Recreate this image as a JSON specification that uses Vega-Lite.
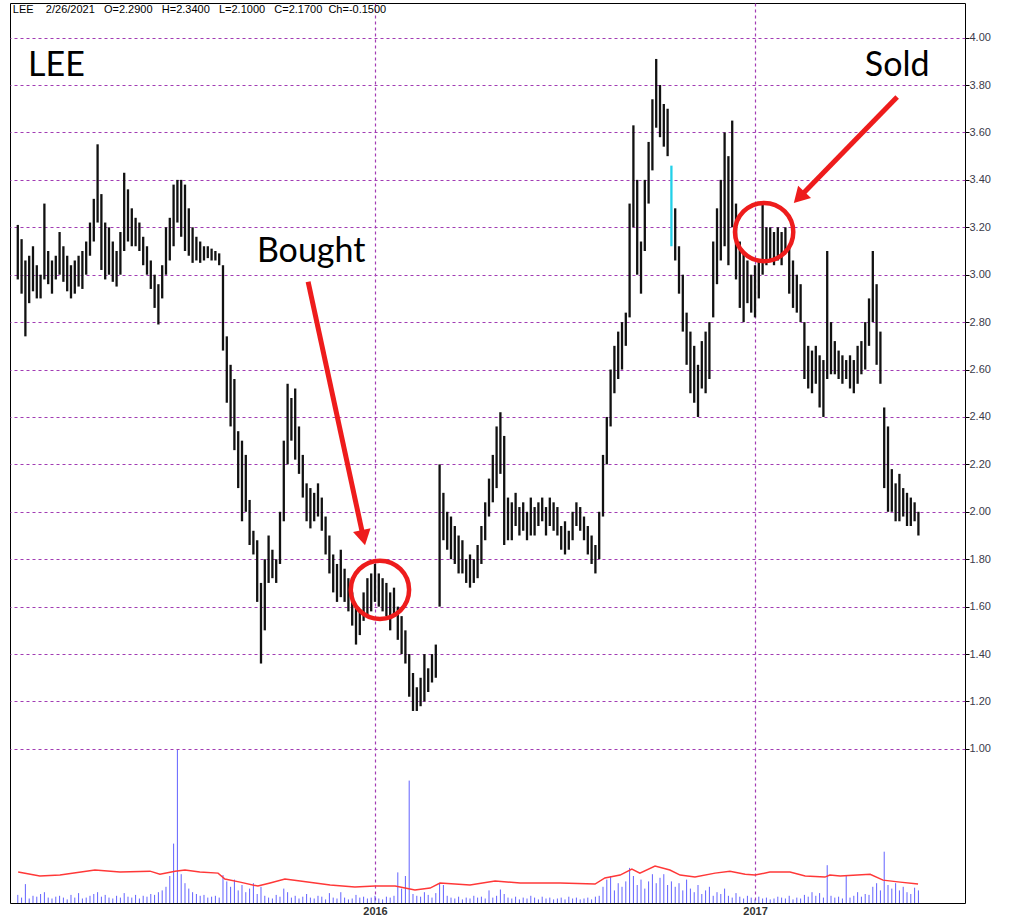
{
 "$schema": "https://vega.github.io/schema/vega-lite/v6.json",
 "width": 955,
 "height": 900,
 "autosize": {"type": "none"},
 "padding": {"left": 10, "top": 3, "right": 58, "bottom": 18},
 "background": "white",
 "config": {"view": {"stroke": "black", "strokeWidth": 1}, "font": "Liberation Sans"},
 "datasets": {
  "px": [
   {"t":2015.06,"hi":3.21,"lo":2.98,"v":45},{"t":2015.07,"hi":3.15,"lo":2.92,"v":30},{"t":2015.08,"hi":3.06,"lo":2.74,"v":105},{"t":2015.09,"hi":3.08,"lo":2.88,"v":25},{"t":2015.10,"hi":3.12,"lo":2.93,"v":40},
   {"t":2015.11,"hi":3.04,"lo":2.90,"v":35},{"t":2015.12,"hi":3.00,"lo":2.90,"v":50},{"t":2015.13,"hi":3.30,"lo":2.98,"v":60},{"t":2015.14,"hi":3.10,"lo":2.96,"v":30},{"t":2015.15,"hi":3.06,"lo":2.92,"v":25},
   {"t":2015.16,"hi":3.08,"lo":2.98,"v":35},{"t":2015.17,"hi":3.18,"lo":3.00,"v":40},{"t":2015.18,"hi":3.12,"lo":2.97,"v":30},{"t":2015.19,"hi":3.08,"lo":2.93,"v":20},{"t":2015.20,"hi":3.04,"lo":2.90,"v":45},
   {"t":2015.21,"hi":3.06,"lo":2.92,"v":30},{"t":2015.22,"hi":3.08,"lo":2.95,"v":55},{"t":2015.23,"hi":3.10,"lo":2.94,"v":25},{"t":2015.24,"hi":3.14,"lo":3.00,"v":30},{"t":2015.25,"hi":3.22,"lo":3.08,"v":40},
   {"t":2015.26,"hi":3.32,"lo":3.14,"v":50},{"t":2015.27,"hi":3.55,"lo":3.22,"v":60},{"t":2015.28,"hi":3.34,"lo":3.02,"v":35},{"t":2015.29,"hi":3.22,"lo":2.98,"v":45},{"t":2015.30,"hi":3.20,"lo":3.00,"v":30},
   {"t":2015.31,"hi":3.14,"lo":2.97,"v":25},{"t":2015.32,"hi":3.10,"lo":2.95,"v":40},{"t":2015.33,"hi":3.18,"lo":3.00,"v":30},{"t":2015.34,"hi":3.43,"lo":3.10,"v":55},{"t":2015.35,"hi":3.36,"lo":3.14,"v":35},
   {"t":2015.36,"hi":3.28,"lo":3.12,"v":30},{"t":2015.37,"hi":3.24,"lo":3.12,"v":45},{"t":2015.38,"hi":3.22,"lo":3.10,"v":25},{"t":2015.39,"hi":3.16,"lo":3.04,"v":40},{"t":2015.40,"hi":3.12,"lo":3.00,"v":35},
   {"t":2015.41,"hi":3.06,"lo":2.94,"v":50},{"t":2015.42,"hi":3.00,"lo":2.86,"v":45},{"t":2015.43,"hi":2.96,"lo":2.79,"v":60},{"t":2015.44,"hi":3.04,"lo":2.90,"v":70},{"t":2015.45,"hi":3.20,"lo":3.00,"v":90},
   {"t":2015.46,"hi":3.24,"lo":3.06,"v":150},{"t":2015.47,"hi":3.38,"lo":3.12,"v":330},{"t":2015.48,"hi":3.40,"lo":3.22,"v":850},{"t":2015.49,"hi":3.40,"lo":3.16,"v":160},{"t":2015.50,"hi":3.38,"lo":3.10,"v":110},
   {"t":2015.51,"hi":3.28,"lo":3.08,"v":80},{"t":2015.52,"hi":3.20,"lo":3.05,"v":60},{"t":2015.53,"hi":3.16,"lo":3.06,"v":50},{"t":2015.54,"hi":3.14,"lo":3.05,"v":40},{"t":2015.55,"hi":3.12,"lo":3.06,"v":45},
   {"t":2015.56,"hi":3.12,"lo":3.07,"v":30},{"t":2015.57,"hi":3.11,"lo":3.06,"v":35},{"t":2015.58,"hi":3.10,"lo":3.06,"v":40},{"t":2015.59,"hi":3.09,"lo":3.04,"v":30},{"t":2015.60,"hi":3.04,"lo":2.68,"v":155},
   {"t":2015.61,"hi":2.74,"lo":2.46,"v":120},{"t":2015.62,"hi":2.62,"lo":2.36,"v":90},{"t":2015.63,"hi":2.56,"lo":2.26,"v":130},{"t":2015.64,"hi":2.34,"lo":2.10,"v":70},{"t":2015.65,"hi":2.30,"lo":1.96,"v":100},
   {"t":2015.66,"hi":2.24,"lo":2.00,"v":60},{"t":2015.67,"hi":2.05,"lo":1.86,"v":80},{"t":2015.68,"hi":1.92,"lo":1.82,"v":110},{"t":2015.69,"hi":1.88,"lo":1.62,"v":50},{"t":2015.70,"hi":1.70,"lo":1.36,"v":90},
   {"t":2015.71,"hi":1.80,"lo":1.50,"v":40},{"t":2015.72,"hi":1.90,"lo":1.70,"v":30},{"t":2015.73,"hi":1.84,"lo":1.72,"v":25},{"t":2015.74,"hi":1.80,"lo":1.70,"v":45},{"t":2015.75,"hi":2.00,"lo":1.78,"v":35},
   {"t":2015.76,"hi":2.30,"lo":1.96,"v":80},{"t":2015.77,"hi":2.54,"lo":2.20,"v":60},{"t":2015.78,"hi":2.48,"lo":2.30,"v":30},{"t":2015.79,"hi":2.52,"lo":2.22,"v":40},{"t":2015.80,"hi":2.36,"lo":2.16,"v":25},
   {"t":2015.81,"hi":2.24,"lo":2.06,"v":35},{"t":2015.82,"hi":2.12,"lo":1.96,"v":50},{"t":2015.83,"hi":2.10,"lo":1.93,"v":30},{"t":2015.84,"hi":2.08,"lo":1.96,"v":25},{"t":2015.85,"hi":2.12,"lo":1.98,"v":40},
   {"t":2015.86,"hi":2.06,"lo":1.92,"v":35},{"t":2015.87,"hi":1.98,"lo":1.82,"v":20},{"t":2015.88,"hi":1.90,"lo":1.74,"v":55},{"t":2015.89,"hi":1.82,"lo":1.66,"v":30},{"t":2015.90,"hi":1.78,"lo":1.62,"v":25},
   {"t":2015.91,"hi":1.84,"lo":1.64,"v":60},{"t":2015.92,"hi":1.76,"lo":1.62,"v":30},{"t":2015.93,"hi":1.72,"lo":1.58,"v":20},{"t":2015.94,"hi":1.66,"lo":1.52,"v":25},{"t":2015.95,"hi":1.60,"lo":1.44,"v":45},
   {"t":2015.96,"hi":1.58,"lo":1.48,"v":30},{"t":2015.97,"hi":1.66,"lo":1.54,"v":35},{"t":2015.98,"hi":1.72,"lo":1.56,"v":25},{"t":2015.99,"hi":1.74,"lo":1.58,"v":30},{"t":2016.00,"hi":1.78,"lo":1.62,"v":40},
   {"t":2016.01,"hi":1.74,"lo":1.60,"v":25},{"t":2016.02,"hi":1.72,"lo":1.58,"v":20},{"t":2016.03,"hi":1.70,"lo":1.56,"v":35},{"t":2016.04,"hi":1.66,"lo":1.50,"v":30},{"t":2016.05,"hi":1.68,"lo":1.56,"v":40},
   {"t":2016.06,"hi":1.60,"lo":1.46,"v":170},{"t":2016.07,"hi":1.56,"lo":1.40,"v":80},{"t":2016.08,"hi":1.50,"lo":1.36,"v":150},{"t":2016.09,"hi":1.40,"lo":1.22,"v":680},{"t":2016.10,"hi":1.32,"lo":1.16,"v":50},
   {"t":2016.11,"hi":1.26,"lo":1.16,"v":40},{"t":2016.12,"hi":1.30,"lo":1.18,"v":35},{"t":2016.13,"hi":1.40,"lo":1.20,"v":60},{"t":2016.14,"hi":1.34,"lo":1.24,"v":45},{"t":2016.15,"hi":1.40,"lo":1.28,"v":30},
   {"t":2016.16,"hi":1.44,"lo":1.30,"v":55},{"t":2016.17,"hi":2.20,"lo":1.60,"v":110},{"t":2016.18,"hi":2.08,"lo":1.88,"v":100},{"t":2016.19,"hi":2.00,"lo":1.84,"v":40},{"t":2016.20,"hi":1.98,"lo":1.80,"v":30},
   {"t":2016.21,"hi":1.94,"lo":1.78,"v":25},{"t":2016.22,"hi":1.90,"lo":1.74,"v":35},{"t":2016.23,"hi":1.88,"lo":1.74,"v":20},{"t":2016.24,"hi":1.80,"lo":1.70,"v":30},{"t":2016.25,"hi":1.82,"lo":1.68,"v":25},
   {"t":2016.26,"hi":1.80,"lo":1.70,"v":40},{"t":2016.27,"hi":1.86,"lo":1.72,"v":30},{"t":2016.28,"hi":1.94,"lo":1.78,"v":35},{"t":2016.29,"hi":2.04,"lo":1.88,"v":25},{"t":2016.30,"hi":2.14,"lo":1.98,"v":70},
   {"t":2016.31,"hi":2.24,"lo":2.04,"v":30},{"t":2016.32,"hi":2.36,"lo":2.10,"v":40},{"t":2016.33,"hi":2.42,"lo":2.16,"v":75},{"t":2016.34,"hi":2.32,"lo":1.86,"v":50},{"t":2016.35,"hi":2.06,"lo":1.88,"v":30},
   {"t":2016.36,"hi":2.04,"lo":1.88,"v":25},{"t":2016.37,"hi":2.08,"lo":1.94,"v":35},{"t":2016.38,"hi":2.02,"lo":1.90,"v":20},{"t":2016.39,"hi":2.04,"lo":1.92,"v":30},{"t":2016.40,"hi":2.00,"lo":1.88,"v":25},
   {"t":2016.41,"hi":2.06,"lo":1.90,"v":40},{"t":2016.42,"hi":2.02,"lo":1.90,"v":30},{"t":2016.43,"hi":2.04,"lo":1.94,"v":20},{"t":2016.44,"hi":2.06,"lo":1.96,"v":35},{"t":2016.45,"hi":2.02,"lo":1.90,"v":25},
   {"t":2016.46,"hi":2.06,"lo":1.94,"v":30},{"t":2016.47,"hi":2.04,"lo":1.92,"v":20},{"t":2016.48,"hi":2.02,"lo":1.90,"v":25},{"t":2016.49,"hi":1.94,"lo":1.84,"v":30},{"t":2016.50,"hi":1.96,"lo":1.82,"v":20},
   {"t":2016.51,"hi":1.92,"lo":1.84,"v":35},{"t":2016.52,"hi":2.00,"lo":1.88,"v":25},{"t":2016.53,"hi":2.04,"lo":1.94,"v":30},{"t":2016.54,"hi":2.02,"lo":1.92,"v":20},{"t":2016.55,"hi":1.98,"lo":1.88,"v":25},
   {"t":2016.56,"hi":1.94,"lo":1.82,"v":30},{"t":2016.57,"hi":1.90,"lo":1.78,"v":20},{"t":2016.58,"hi":1.86,"lo":1.74,"v":35},{"t":2016.59,"hi":2.00,"lo":1.80,"v":40},{"t":2016.60,"hi":2.24,"lo":1.98,"v":90},
   {"t":2016.61,"hi":2.40,"lo":2.20,"v":130},{"t":2016.62,"hi":2.60,"lo":2.36,"v":150},{"t":2016.63,"hi":2.70,"lo":2.50,"v":70},{"t":2016.64,"hi":2.76,"lo":2.56,"v":110},{"t":2016.65,"hi":2.80,"lo":2.60,"v":90},
   {"t":2016.66,"hi":2.84,"lo":2.70,"v":120},{"t":2016.67,"hi":3.30,"lo":2.82,"v":195},{"t":2016.68,"hi":3.63,"lo":3.20,"v":150},{"t":2016.69,"hi":3.40,"lo":3.00,"v":100},{"t":2016.70,"hi":3.14,"lo":2.92,"v":130},
   {"t":2016.71,"hi":3.40,"lo":3.10,"v":80},{"t":2016.72,"hi":3.56,"lo":3.30,"v":120},{"t":2016.73,"hi":3.74,"lo":3.44,"v":160},{"t":2016.74,"hi":3.91,"lo":3.62,"v":110},{"t":2016.75,"hi":3.80,"lo":3.58,"v":140},
   {"t":2016.76,"hi":3.72,"lo":3.54,"v":160},{"t":2016.77,"hi":3.70,"lo":3.50,"v":100},{"t":2016.78,"hi":3.46,"lo":3.12,"v":120},{"t":2016.79,"hi":3.28,"lo":3.06,"v":90},{"t":2016.80,"hi":3.12,"lo":2.92,"v":110},
   {"t":2016.81,"hi":3.00,"lo":2.76,"v":70},{"t":2016.82,"hi":2.84,"lo":2.62,"v":130},{"t":2016.83,"hi":2.76,"lo":2.50,"v":80},{"t":2016.84,"hi":2.70,"lo":2.46,"v":60},{"t":2016.85,"hi":2.62,"lo":2.40,"v":100},
   {"t":2016.86,"hi":2.72,"lo":2.52,"v":50},{"t":2016.87,"hi":2.76,"lo":2.50,"v":70},{"t":2016.88,"hi":2.80,"lo":2.56,"v":90},{"t":2016.89,"hi":3.14,"lo":2.82,"v":40},{"t":2016.90,"hi":3.28,"lo":2.96,"v":60},
   {"t":2016.91,"hi":3.40,"lo":3.06,"v":50},{"t":2016.92,"hi":3.60,"lo":3.12,"v":80},{"t":2016.93,"hi":3.50,"lo":3.04,"v":40},{"t":2016.94,"hi":3.65,"lo":3.20,"v":30},{"t":2016.95,"hi":3.30,"lo":2.98,"v":55},
   {"t":2016.96,"hi":3.14,"lo":2.86,"v":35},{"t":2016.97,"hi":3.10,"lo":2.80,"v":25},{"t":2016.98,"hi":3.06,"lo":2.88,"v":40},{"t":2016.99,"hi":3.00,"lo":2.84,"v":30},{"t":2017.00,"hi":3.04,"lo":2.82,"v":20},
   {"t":2017.01,"hi":3.06,"lo":2.90,"v":35},{"t":2017.02,"hi":3.30,"lo":3.00,"v":25},{"t":2017.03,"hi":3.20,"lo":3.04,"v":30},{"t":2017.04,"hi":3.20,"lo":3.06,"v":20},{"t":2017.05,"hi":3.18,"lo":3.04,"v":25},
   {"t":2017.06,"hi":3.20,"lo":3.06,"v":35},{"t":2017.07,"hi":3.18,"lo":3.04,"v":30},{"t":2017.08,"hi":3.20,"lo":3.10,"v":25},{"t":2017.09,"hi":3.12,"lo":2.92,"v":40},{"t":2017.10,"hi":3.06,"lo":2.86,"v":20},
   {"t":2017.11,"hi":3.00,"lo":2.84,"v":30},{"t":2017.12,"hi":2.96,"lo":2.80,"v":25},{"t":2017.13,"hi":2.80,"lo":2.56,"v":45},{"t":2017.14,"hi":2.70,"lo":2.52,"v":35},{"t":2017.15,"hi":2.68,"lo":2.50,"v":60},
   {"t":2017.16,"hi":2.70,"lo":2.54,"v":40},{"t":2017.17,"hi":2.66,"lo":2.44,"v":55},{"t":2017.18,"hi":2.64,"lo":2.40,"v":30},{"t":2017.19,"hi":3.10,"lo":2.56,"v":210},{"t":2017.20,"hi":2.80,"lo":2.58,"v":40},
   {"t":2017.21,"hi":2.72,"lo":2.58,"v":30},{"t":2017.22,"hi":2.68,"lo":2.56,"v":35},{"t":2017.23,"hi":2.66,"lo":2.54,"v":25},{"t":2017.24,"hi":2.64,"lo":2.56,"v":150},{"t":2017.25,"hi":2.66,"lo":2.52,"v":30},
   {"t":2017.26,"hi":2.64,"lo":2.50,"v":40},{"t":2017.27,"hi":2.70,"lo":2.54,"v":60},{"t":2017.28,"hi":2.72,"lo":2.58,"v":35},{"t":2017.29,"hi":2.80,"lo":2.60,"v":50},{"t":2017.30,"hi":2.90,"lo":2.70,"v":45},
   {"t":2017.31,"hi":3.10,"lo":2.80,"v":90},{"t":2017.32,"hi":2.96,"lo":2.62,"v":110},{"t":2017.33,"hi":2.76,"lo":2.54,"v":70},{"t":2017.34,"hi":2.44,"lo":2.10,"v":285},{"t":2017.35,"hi":2.36,"lo":2.00,"v":100},
   {"t":2017.36,"hi":2.18,"lo":2.00,"v":80},{"t":2017.37,"hi":2.12,"lo":1.96,"v":110},{"t":2017.38,"hi":2.16,"lo":1.96,"v":70},{"t":2017.39,"hi":2.10,"lo":1.98,"v":90},{"t":2017.40,"hi":2.08,"lo":1.94,"v":60},
   {"t":2017.41,"hi":2.06,"lo":1.94,"v":50},{"t":2017.42,"hi":2.04,"lo":1.96,"v":85},{"t":2017.43,"hi":2.00,"lo":1.90,"v":70}
  ],
  "ma": [
   {"t":2015.061,"m":172},{"t":2015.118,"m":150},{"t":2015.171,"m":155},{"t":2015.263,"m":183},{"t":2015.329,"m":172},{"t":2015.408,"m":177},{"t":2015.434,"m":160},{"t":2015.474,"m":177},{"t":2015.5,"m":183},{"t":2015.539,"m":172},{"t":2015.587,"m":166},{"t":2015.605,"m":133},{"t":2015.645,"m":116},{"t":2015.692,"m":94},{"t":2015.724,"m":111},{"t":2015.763,"m":133},{"t":2015.803,"m":122},{"t":2015.882,"m":100},{"t":2015.947,"m":89},{"t":2016.0,"m":94},{"t":2016.053,"m":94},{"t":2016.105,"m":72},{"t":2016.145,"m":83},{"t":2016.171,"m":111},{"t":2016.25,"m":100},{"t":2016.316,"m":122},{"t":2016.382,"m":111},{"t":2016.487,"m":111},{"t":2016.579,"m":105},{"t":2016.605,"m":139},{"t":2016.645,"m":155},{"t":2016.676,"m":188},{"t":2016.697,"m":166},{"t":2016.737,"m":205},{"t":2016.776,"m":183},{"t":2016.803,"m":155},{"t":2016.842,"m":144},{"t":2016.895,"m":166},{"t":2016.934,"m":177},{"t":2016.974,"m":160},{"t":2017.0,"m":155},{"t":2017.039,"m":172},{"t":2017.092,"m":172},{"t":2017.132,"m":150},{"t":2017.184,"m":144},{"t":2017.197,"m":155},{"t":2017.224,"m":150},{"t":2017.303,"m":160},{"t":2017.337,"m":127},{"t":2017.382,"m":116},{"t":2017.429,"m":105}
  ]
 },
 "encoding": {
  "x": {"field": "t", "type": "quantitative",
   "scale": {"domain": [2015.0395, 2017.5526], "nice": false, "zero": false},
   "axis": {"values": [2016, 2017], "format": "d", "title": null, "grid": true, "gridColor": "#a23cb4", "gridDash": [3, 3], "gridWidth": 1.2, "gridOpacity": 1, "ticks": false, "domain": false, "labelFont": "Liberation Sans", "labelFontSize": 11, "labelFontWeight": "bold", "labelColor": "#333333", "labelPadding": 2}}
 },
 "layer": [
  {
   "encoding": {
    "y": {"field": "hi", "type": "quantitative", "scale": {"domain": [0.35, 4.146], "nice": false, "zero": false},
     "axis": {"orient": "right", "values": [1, 1.2, 1.4, 1.6, 1.8, 2, 2.2, 2.4, 2.6, 2.8, 3, 3.2, 3.4, 3.6, 3.8, 4], "format": ".2f", "title": null, "grid": true, "gridColor": "#a23cb4", "gridDash": [3, 3], "gridWidth": 1.2, "gridOpacity": 1, "ticks": true, "tickColor": "black", "tickSize": 4, "domain": false, "labelFont": "Liberation Sans", "labelFontSize": 11, "labelColor": "#3a3a4a", "labelPadding": 0}}
   },
   "layer": [
    {"data": {"name": "px"}, "mark": {"type": "rule", "strokeWidth": 2.3},
     "encoding": {
      "y2": {"field": "lo"},
      "color": {"condition": {"test": "datum.t === 2016.78", "value": "#22d0e8"}, "value": "#111111"}
     }},
    {"data": {"values": [{"t": 2015.047, "hi": 4.103, "label": "LEE\u00a0\u00a0\u00a0\u00a02/26/2021\u00a0\u00a0\u00a0O=2.2900\u00a0\u00a0\u00a0H=2.3400\u00a0\u00a0\u00a0L=2.1000\u00a0\u00a0\u00a0C=2.1700\u00a0\u00a0Ch=-0.1500"}]},
     "mark": {"type": "text", "font": "Liberation Sans", "fontSize": 11, "align": "left", "baseline": "alphabetic", "color": "black"},
     "encoding": {"text": {"field": "label"}}},
    {"data": {"values": [{"t": 2015.087, "hi": 3.836, "label": "LEE"}]},
     "mark": {"type": "text", "font": "Lato", "fontSize": 34, "align": "left", "baseline": "alphabetic", "color": "black"},
     "encoding": {"text": {"field": "label"}}},
    {"data": {"values": [{"t": 2015.832, "hi": 3.054, "label": "Bought"}, {"t": 2017.374, "hi": 3.836, "label": "Sold"}]},
     "mark": {"type": "text", "font": "Lato", "fontSize": 34, "align": "center", "baseline": "alphabetic", "color": "black"},
     "encoding": {"text": {"field": "label"}}},
    {"data": {"values": [{"t": 2016.013, "hi": 1.671}, {"t": 2017.024, "hi": 3.18}]},
     "mark": {"type": "point", "shape": "circle", "filled": false, "color": "#ee1c1c", "strokeWidth": 4.5, "size": 3400, "opacity": 1}},
    {"data": {"values": [{"t": 2015.824, "hi": 2.97, "t2": 2015.9695, "hi2": 1.891}, {"t": 2017.374, "hi": 3.75, "t2": 2017.1163, "hi2": 3.326}]},
     "mark": {"type": "rule", "color": "#ee1c1c", "strokeWidth": 5},
     "encoding": {"x2": {"field": "t2"}, "y2": {"field": "hi2"}}},
    {"data": {"values": [{"t": 2015.9695, "hi": 1.891}]},
     "mark": {"type": "point", "shape": "triangle-up", "filled": true, "color": "#ee1c1c", "size": 320, "angle": 168, "opacity": 1, "strokeWidth": 0}},
    {"data": {"values": [{"t": 2017.1163, "hi": 3.326}]},
     "mark": {"type": "point", "shape": "triangle-up", "filled": true, "color": "#ee1c1c", "size": 320, "angle": 224, "opacity": 1, "strokeWidth": 0}}
   ]
  },
  {
   "layer": [
    {"data": {"name": "px"}, "mark": {"type": "rule", "color": "#4646ff", "strokeWidth": 1, "opacity": 0.85},
     "encoding": {"y": {"field": "v", "type": "quantitative", "scale": {"domain": [0, 5000], "nice": false}, "axis": null}, "y2": {"datum": 0}}},
    {"data": {"name": "ma"}, "mark": {"type": "line", "color": "#ff3838", "strokeWidth": 1.5},
     "encoding": {"y": {"field": "m", "type": "quantitative", "axis": null}}}
   ]
  }
 ],
 "resolve": {"scale": {"y": "independent"}}
}
